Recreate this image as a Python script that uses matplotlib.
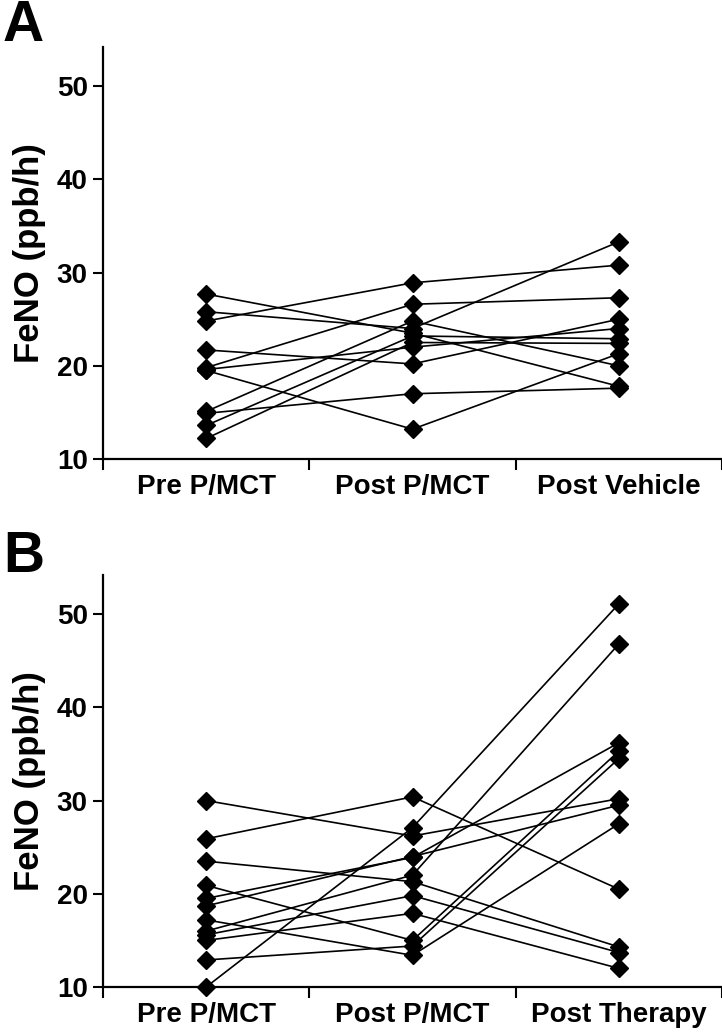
import matplotlib
matplotlib.use("Agg")
import matplotlib.pyplot as plt

plt.rcParams['font.family'] = ['Liberation Sans', 'DejaVu Sans']
plt.rcParams['font.weight'] = 'bold'

# panel A: pre -> post P/MCT -> post vehicle (one row per subject)
labels_a = ["Pre P/MCT", "Post P/MCT", "Post Vehicle"]
pre_a = [27.7, 25.8, 24.8, 21.7, 19.8, 19.6, 19.5, 15.1, 14.9, 13.6, 12.2]
post_a = [23.5, 24.0, 28.9, 20.2, 26.6, 22.0, 13.2, 24.8, 17.0, 23.2, 22.5]
veh_a = [17.8, 33.3, 30.8, 25.0, 27.3, 24.0, 21.3, 20.0, 17.6, 22.9, 22.4]

# panel B: pre -> post P/MCT -> post therapy
labels_b = ["Pre P/MCT", "Post P/MCT", "Post Therapy"]
pre_b = [30.0, 25.9, 23.5, 20.9, 19.5, 18.7, 17.2, 16.0, 15.6, 15.0, 12.9, 10.0]
post_b = [26.2, 30.4, 21.3, 15.0, 23.9, 24.0, 13.4, 22.0, 19.8, 17.9, 14.4, 27.1]
ther_b = [30.2, 20.5, 14.3, 35.3, 36.2, 29.5, 27.5, 46.8, 13.7, 12.0, 34.5, 51.1]

W, H = 722, 1032
fig = plt.figure(figsize=(W / 100, H / 100), dpi=100)

def panel(rect, cols, labels, letter, letter_y):
    ax = fig.add_axes(rect)
    x = [1, 2, 3]
    for vals in zip(*cols):
        ax.plot(x, vals, color='black', lw=1.2, marker='D', ms=9,
                mfc='black', mec='black', clip_on=False, zorder=3)
    ax.set_xlim(0.5, 3.5)
    ax.set_ylim(10, 54.2)
    ax.set_yticks([10, 20, 30, 40, 50])
    ax.set_xticks([0.5, 1.5, 2.5, 3.5])
    ax.set_xticklabels([])
    ax.set_xticks(x, minor=True)
    ax.set_xticklabels(labels, minor=True)
    ax.tick_params(axis='x', which='major', length=8, width=1.5)
    ax.tick_params(axis='x', which='minor', length=0, pad=11, labelsize=20)
    ax.tick_params(axis='y', length=7, width=1.5, labelsize=20, pad=4)
    for s in ['top', 'right']:
        ax.spines[s].set_visible(False)
    for s in ['left', 'bottom']:
        ax.spines[s].set_linewidth(1.6)
    for t in ax.get_xticklabels(minor=True) + ax.get_yticklabels():
        t.set_fontweight('bold')
    ax.set_ylabel("FeNO (ppb/h)", fontsize=25, fontweight='bold', labelpad=8)
    fig.text(0.004, letter_y, letter, fontsize=41,
             fontweight='bold', va='baseline', ha='left')
    return ax

panel([103 / W, 1 - 459 / H, 619 / W, 412 / H], [pre_a, post_a, veh_a], labels_a, "A", 1 - 41 / H)
panel([103 / W, 1 - 987 / H, 619 / W, 412 / H], [pre_b, post_b, ther_b], labels_b, "B", 1 - 572 / H)

fig.savefig("out.png", dpi=100)
